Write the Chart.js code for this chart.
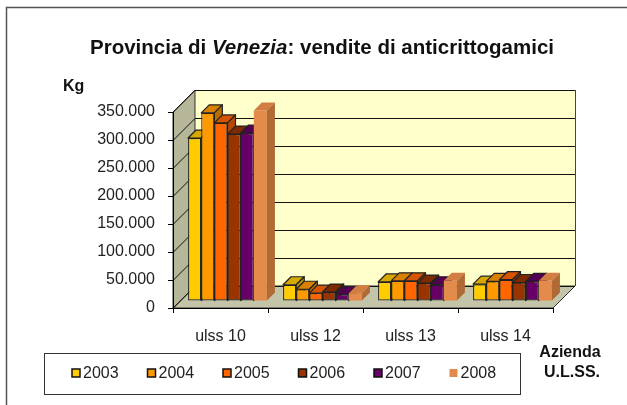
<!DOCTYPE html>
<html>
<head>
<meta charset="utf-8">
<script src="https://cdn.jsdelivr.net/npm/chart.js@4.4.0/dist/chart.umd.min.js"></script>
<style>
  html, body { margin: 0; padding: 0; background: #fff; }
  #wrap { width: 627px; height: 405px; position: relative; }
</style>
</head>
<body>
<div id="wrap"><canvas id="chart" width="627" height="405"></canvas></div>
<script>
// dati
const categories = ['ulss 10', 'ulss 12', 'ulss 13', 'ulss 14'];
const years = ['2003', '2004', '2005', '2006', '2007', '2008'];
const kg2003 = [291000, 29000, 34000, 30000];
const kg2004 = [336000, 21000, 36000, 35000];
const kg2005 = [318000, 14000, 36000, 38000];
const kg2006 = [298000, 16000, 32000, 33000];
const kg2007 = [300000, 12000, 29000, 35000];
const kg2008 = [340000, 14000, 36000, 36000];
const yTicks = [0, 50000, 100000, 150000, 200000, 250000, 300000, 350000];

// colori: fronte, cima, lato
const frontColors = ['#FFCC00', '#FF9900', '#FF6600', '#993300', '#660066', '#E38B4A'];
const topColors = ['#D6A800', '#D98000', '#D65400', '#7E2A00', '#520052', '#D27E42'];
const sideColors = ['#B89000', '#B86E00', '#B84800', '#6A2300', '#440044', '#B06A35'];
const borderColors = ['#222', '#222', '#222', '#222', '#222', 'rgba(0,0,0,0)'];

const DEPTH = 22; // profondità del pavimento
const SHIFT = 7; // posizione delle barre nella profondità
const BAR_D = 8; // profondità delle barre

const fmt = (v) => String(v).replace(/\B(?=(\d{3})+(?!\d))/g, '.');

Chart.defaults.font.family = '"Liberation Sans", Arial, sans-serif';
Chart.defaults.color = '#222';

const series = [kg2003, kg2004, kg2005, kg2006, kg2007, kg2008];

// pareti e pavimento
const walls = {
  id: 'walls',
  beforeDraw(chart) {
    const { ctx, chartArea: { left, right, top, bottom }, scales: { y } } = chart;
    ctx.save();
    ctx.fillStyle = '#fff';
    ctx.fillRect(0, 0, chart.width, chart.height);
    // cornice esterna
    ctx.strokeStyle = '#555';
    ctx.lineWidth = 1.5;
    ctx.strokeRect(6.5, 7.5, 800, 600);

    const D = DEPTH;
    ctx.lineWidth = 1;
    ctx.strokeStyle = '#333';
    // parete di fondo
    ctx.fillStyle = '#FFFFCC';
    ctx.fillRect(left + D, top - D, right - left, bottom - top);
    // parete sinistra
    ctx.fillStyle = '#B6B699';
    ctx.beginPath();
    ctx.moveTo(left, bottom);
    ctx.lineTo(left, top);
    ctx.lineTo(left + D, top - D);
    ctx.lineTo(left + D, bottom - D);
    ctx.closePath();
    ctx.fill();
    ctx.stroke();
    // pavimento
    ctx.fillStyle = '#C4C4A8';
    ctx.beginPath();
    ctx.moveTo(left, bottom);
    ctx.lineTo(right, bottom);
    ctx.lineTo(right + D, bottom - D);
    ctx.lineTo(left + D, bottom - D);
    ctx.closePath();
    ctx.fill();
    ctx.stroke();
    // griglia
    ctx.strokeStyle = '#111';
    yTicks.forEach((v) => {
      const py = Math.round(y.getPixelForValue(v)) + 0.5;
      ctx.beginPath();
      ctx.moveTo(left, py);
      ctx.lineTo(left + D, py - D);
      ctx.lineTo(right + D, py - D);
      ctx.stroke();
    });
    ctx.strokeStyle = '#444';
    ctx.beginPath();
    ctx.moveTo(right + D + 0.5, top - D);
    ctx.lineTo(right + D + 0.5, bottom - D);
    ctx.stroke();
    ctx.restore();
  },
};

// barre 3D: disegnate in ordine da sinistra a destra
const bars3d = {
  id: 'bars3d',
  beforeDatasetDraw() {
    return false;
  },
  afterDatasetsDraw(chart) {
    const { ctx } = chart;
    ctx.save();
    ctx.translate(SHIFT, -SHIFT);
    for (let i = 0; i < chart.data.datasets.length; i += 1) {
      const meta = chart.getDatasetMeta(i);
      meta.data.forEach((el) => {
        el.draw(ctx);
        const l = el.x - el.width / 2;
        const r = el.x + el.width / 2;
        const t = el.y;
        const b = el.base;
        const d = BAR_D;
        ctx.lineWidth = 1.2;
        ctx.strokeStyle = borderColors[i];
        ctx.lineJoin = 'round';
        ctx.fillStyle = topColors[i];
        ctx.beginPath();
        ctx.moveTo(l, t);
        ctx.lineTo(r, t);
        ctx.lineTo(r + d, t - d);
        ctx.lineTo(l + d, t - d);
        ctx.closePath();
        ctx.fill();
        ctx.stroke();
        ctx.fillStyle = sideColors[i];
        ctx.beginPath();
        ctx.moveTo(r, t);
        ctx.lineTo(r + d, t - d);
        ctx.lineTo(r + d, b - d);
        ctx.lineTo(r, b);
        ctx.closePath();
        ctx.fill();
        ctx.stroke();
      });
    }
    ctx.restore();
  },
};

// titolo, etichette e legenda
const texts = {
  id: 'texts',
  afterDraw(chart) {
    const { ctx } = chart;
    ctx.save();
    ctx.fillStyle = '#111';
    ctx.textBaseline = 'middle';
    // titolo con "Venezia" in corsivo
    const parts = [
      ['Provincia di ', 'bold 20.5px "Liberation Sans", Arial'],
      ['Venezia', 'italic bold 20.5px "Liberation Sans", Arial'],
      [': vendite di anticrittogamici', 'bold 20.5px "Liberation Sans", Arial'],
    ];
    let total = 0;
    parts.forEach(([t, f]) => { ctx.font = f; total += ctx.measureText(t).width; });
    let x = 322 - total / 2;
    parts.forEach(([t, f]) => {
      ctx.font = f;
      ctx.textAlign = 'left';
      ctx.fillText(t, x, 48);
      x += ctx.measureText(t).width;
    });
    // unità
    ctx.font = 'bold 16px "Liberation Sans", Arial';
    ctx.fillText('Kg', 63, 87);
    ctx.textAlign = 'center';
    ctx.fillText('Azienda', 570, 353);
    ctx.fillText('U.L.SS.', 572, 373);
    // legenda
    ctx.strokeStyle = '#333';
    ctx.lineWidth = 1;
    ctx.strokeRect(44.5, 353.5, 476, 41);
    ctx.font = '16px "Liberation Sans", Arial';
    ctx.textAlign = 'left';
    years.forEach((yr, i) => {
      const lx = 72 + i * 75.5;
      ctx.fillStyle = frontColors[i];
      ctx.fillRect(lx, 369, 8, 8);
      if (i < 5) {
        ctx.strokeStyle = '#111';
        ctx.lineWidth = 1.5;
        ctx.strokeRect(lx, 369, 8, 8);
      }
      ctx.fillStyle = '#222';
      ctx.fillText(yr, lx + 11, 374);
    });
    ctx.restore();
  },
};

const datasets = series.map((data, i) => ({
  label: years[i],
  data,
  backgroundColor: frontColors[i],
  borderColor: borderColors[i],
  borderWidth: i < 5 ? 1.2 : 0,
  borderSkipped: false,
  categoryPercentage: 0.83,
  barPercentage: 1,
  clip: false,
}));

new Chart(document.getElementById('chart'), {
  type: 'bar',
  data: { labels: categories, datasets },
  options: {
    responsive: false,
    animation: false,
    layout: { padding: { top: 112, right: 74, left: 0, bottom: 0 } },
    plugins: { legend: { display: false }, title: { display: false }, tooltip: { enabled: false } },
    scales: {
      x: {
        offset: true,
        grid: { drawOnChartArea: false, tickLength: 5, color: '#000', offset: true },
        border: { color: '#000', width: 1 },
        ticks: { font: { size: 16 }, color: '#222', padding: 14 },
        afterFit: (s) => { s.height = 97; },
      },
      y: {
        min: 0,
        max: 350000,
        afterBuildTicks: (s) => { s.ticks = yTicks.map((value) => ({ value })); },
        grid: { drawOnChartArea: false, tickLength: 5, color: '#000' },
        border: { color: '#000', width: 1 },
        ticks: { font: { size: 16 }, color: '#222', padding: 13, callback: (v) => fmt(v) },
        afterFit: (s) => { s.width = 173; },
      },
    },
  },
  plugins: [walls, bars3d, texts],
});
</script>
</body>
</html>
